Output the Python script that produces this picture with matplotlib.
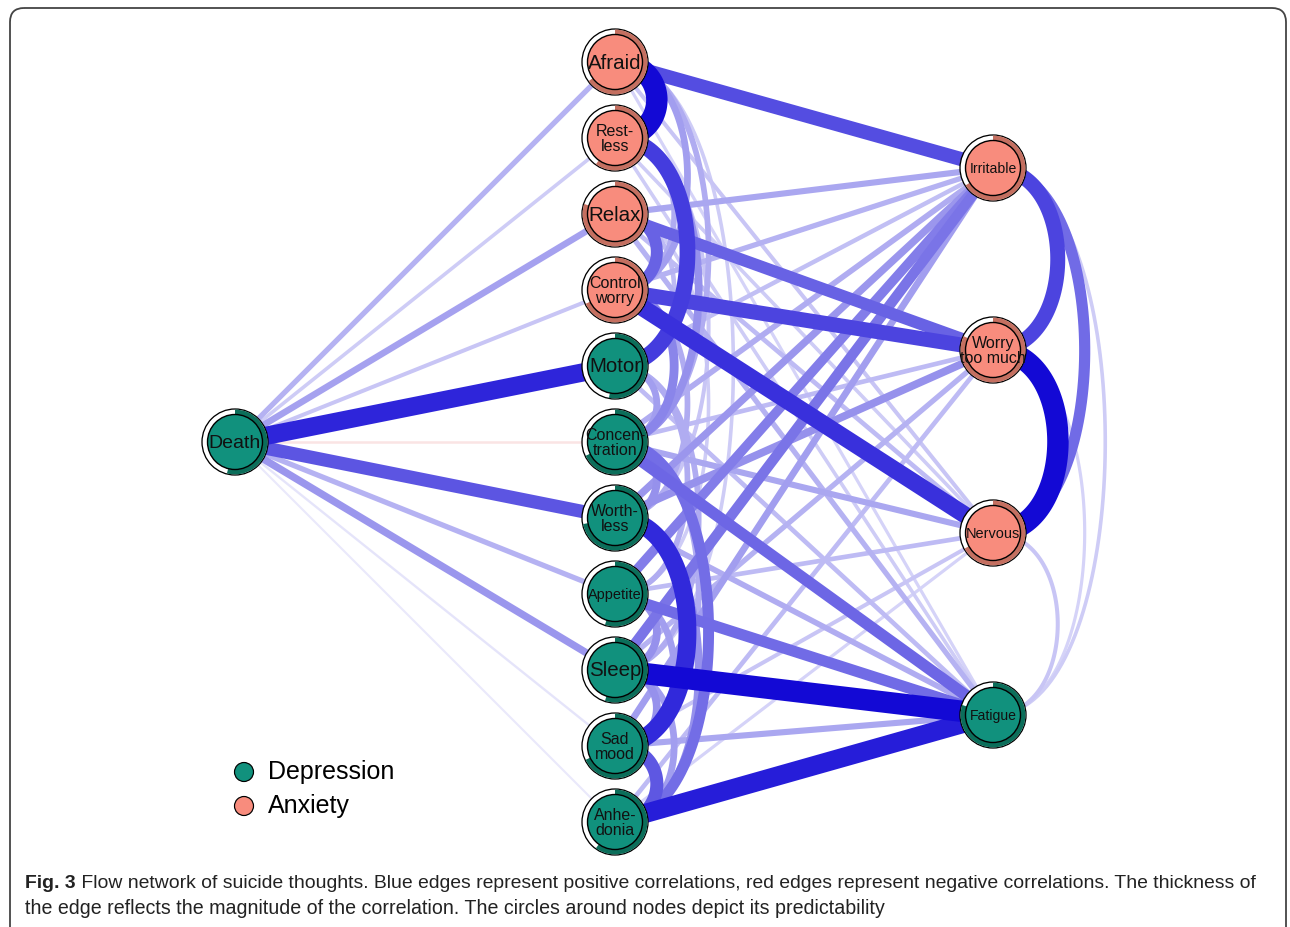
import numpy as np
import matplotlib
matplotlib.use("Agg")
import matplotlib.pyplot as plt
from matplotlib.patches import Circle, Wedge, FancyBboxPatch

# ---------------- data ----------------
node_names = ["Death", "Afraid", "Restless", "Relax", "Control worry", "Motor",
              "Concentration", "Worthless", "Appetite", "Sleep", "Sad mood",
              "Anhedonia", "Irritable", "Worry too much", "Nervous", "Fatigue"]
node_labels = ["Death", "Afraid", "Rest-\nless", "Relax", "Control\nworry", "Motor",
               "Concen-\ntration", "Worth-\nless", "Appetite", "Sleep", "Sad\nmood",
               "Anhe-\ndonia", "Irritable", "Worry\ntoo much", "Nervous", "Fatigue"]
node_groups = ["Depression", "Anxiety", "Anxiety", "Anxiety", "Anxiety", "Depression",
               "Depression", "Depression", "Depression", "Depression", "Depression",
               "Depression", "Anxiety", "Anxiety", "Anxiety", "Depression"]
predictability = [0.54, 0.65, 0.60, 0.80, 0.68, 0.53, 0.68, 0.72, 0.55, 0.55, 0.68,
                  0.60, 0.66, 0.82, 0.67, 0.80]

edge_from = ["Death", "Death", "Death", "Death", "Death", "Death", "Death", "Death",
             "Death", "Death", "Death",
             "Afraid", "Afraid", "Afraid", "Restless", "Restless", "Relax", "Relax",
             "Relax", "Relax", "Control worry", "Control worry", "Control worry",
             "Motor", "Motor", "Concentration", "Concentration", "Concentration",
             "Concentration", "Worthless", "Worthless", "Worthless", "Appetite",
             "Appetite", "Appetite", "Sleep", "Sleep", "Sleep", "Sad mood", "Sad mood",
             "Sad mood", "Anhedonia", "Anhedonia", "Anhedonia",
             "Irritable", "Worry too much", "Irritable", "Irritable", "Worry too much",
             "Nervous",
             "Afraid", "Restless", "Relax", "Afraid", "Afraid", "Restless", "Restless",
             "Relax", "Control worry", "Control worry", "Motor", "Motor", "Motor",
             "Concentration", "Concentration", "Concentration", "Worthless",
             "Worthless", "Appetite", "Appetite", "Sleep", "Sleep", "Sad mood",
             "Afraid", "Relax", "Restless"]
edge_to = ["Afraid", "Restless", "Relax", "Control worry", "Motor", "Concentration",
           "Worthless", "Appetite", "Sleep", "Sad mood", "Anhedonia",
           "Irritable", "Nervous", "Fatigue", "Nervous", "Fatigue", "Irritable",
           "Worry too much", "Nervous", "Fatigue", "Irritable", "Worry too much",
           "Nervous", "Irritable", "Fatigue", "Irritable", "Worry too much", "Nervous",
           "Fatigue", "Irritable", "Worry too much", "Fatigue", "Irritable", "Nervous",
           "Fatigue", "Irritable", "Worry too much", "Fatigue", "Irritable", "Nervous",
           "Fatigue", "Worry too much", "Nervous", "Fatigue",
           "Worry too much", "Nervous", "Nervous", "Fatigue", "Fatigue", "Fatigue",
           "Restless", "Motor", "Control worry", "Control worry", "Concentration",
           "Concentration", "Control worry", "Motor", "Concentration", "Worthless",
           "Concentration", "Appetite", "Sleep", "Worthless", "Anhedonia", "Sad mood",
           "Sad mood", "Anhedonia", "Sleep", "Sad mood", "Sad mood", "Anhedonia",
           "Anhedonia", "Sleep", "Appetite", "Worthless"]
edge_weight = [0.18, 0.10, 0.24, 0.12, 0.80, -0.05, 0.56, 0.18, 0.28, 0.04, 0.03,
               0.60, 0.12, 0.08, 0.10, 0.10, 0.22, 0.50, 0.15, 0.18, 0.18, 0.64, 0.74,
               0.14, 0.15, 0.20, 0.15, 0.22, 0.48, 0.28, 0.30, 0.20, 0.38, 0.15, 0.46,
               0.42, 0.18, 0.95, 0.25, 0.12, 0.22, 0.15, 0.08, 0.84,
               0.64, 0.95, 0.46, 0.10, 0.08, 0.12,
               0.95, 0.68, 0.50, 0.25, 0.20, 0.30, 0.20, 0.15, 0.35, 0.20, 0.25, 0.20,
               0.20, 0.30, 0.45, 0.20, 0.78, 0.30, 0.30, 0.25, 0.30, 0.25, 0.55,
               0.10, 0.10, 0.12]

legend_groups = ["Depression", "Anxiety"]

caption_bold = "Fig. 3"
caption_line1 = (" Flow network of suicide thoughts. Blue edges represent positive "
                 "correlations, red edges represent negative correlations. The thickness of")
caption_line2 = ("the edge reflects the magnitude of the correlation. "
                 "The circles around nodes depict its predictability")

# ---------------- layout / style ----------------
W, H = 1290, 927
PX = 72.0 / 100.0  # points per pixel
col_x = [235, 615, 993]
node_pos = {"Death": (col_x[0], 442)}
for i, n in enumerate(node_names[1:12]):
    node_pos[n] = (col_x[1], 62 + 76 * i)
for n, y in zip(node_names[12:], [168, 350, 533, 715]):
    node_pos[n] = (col_x[2], y)

label_px = {"Death": 19.5, "Afraid": 20.5, "Relax": 20.5, "Motor": 20.5, "Sleep": 20.5,
            "Irritable": 14, "Nervous": 14.5, "Fatigue": 14, "Appetite": 14.5}
fill_col = {"Depression": "#11917D", "Anxiety": "#F88C7D"}
ring_col = {"Depression": "#0B6E5A", "Anxiety": "#C46F60"}
pos_rgb = np.array([0.04, 0.0, 0.83])
neg_rgb = np.array([0.85, 0.15, 0.15])
FONT = ["Liberation Sans", "DejaVu Sans"]

fig = plt.figure(figsize=(W / 100, H / 100), dpi=100)
ax = fig.add_axes([0, 0, 1, 1])
ax.set_xlim(0, W)
ax.set_ylim(H, 0)
ax.axis("off")

# frame
frame = FancyBboxPatch((10, 8), 1276, 980, boxstyle="round,pad=0,rounding_size=14",
                       fc="none", ec="#444444", lw=1.3, zorder=0)
ax.add_patch(frame)


def edge_style(w):
    a = min(1.0, abs(w) ** 0.7)
    base = pos_rgb if w > 0 else neg_rgb
    col = np.ones(3) * (1 - a) + base * a
    lw = (1.5 + 21 * abs(w)) * PX
    return col, lw


order = np.argsort(np.abs(edge_weight))
for k in order:
    a, b, w = edge_from[k], edge_to[k], edge_weight[k]
    (x1, y1), (x2, y2) = node_pos[a], node_pos[b]
    col, lw = edge_style(w)
    if abs(x1 - x2) < 1:
        d = abs(y2 - y1)
        kk = 4.8 * np.sqrt(d) / 0.75
        t = np.linspace(0, 1, 80)
        P = np.array([[x1, y1], [x1 + kk, y1], [x2 + kk, y2], [x2, y2]])
        pts = ((1 - t) ** 3)[:, None] * P[0] + (3 * (1 - t) ** 2 * t)[:, None] * P[1] \
            + (3 * (1 - t) * t ** 2)[:, None] * P[2] + (t ** 3)[:, None] * P[3]
        ax.plot(pts[:, 0], pts[:, 1], color=col, lw=lw, solid_capstyle="butt", zorder=2)
    else:
        ax.plot([x1, x2], [y1, y2], color=col, lw=lw, solid_capstyle="butt", zorder=2)

# nodes
R_OUT, R_IN = 33.0, 27.5
for n, lab, g, p in zip(node_names, node_labels, node_groups, predictability):
    x, y = node_pos[n]
    ax.add_patch(Circle((x, y), R_OUT, fc="white", ec="black", lw=1.3 * PX, zorder=5))
    ax.add_patch(Wedge((x, y), R_OUT - 0.6, -90, -90 + 360 * p, width=R_OUT - R_IN - 0.6,
                       fc=ring_col[g], ec="none", zorder=6))
    ax.add_patch(Circle((x, y), R_IN, fc=fill_col[g], ec="black", lw=1.4 * PX, zorder=7))
    fs = label_px.get(n, 16) * PX
    ax.text(x, y + 1, lab, ha="center", va="center", fontsize=fs, family=FONT,
            linespacing=0.95, color="#111111", zorder=8)

# legend
for i, g in enumerate(legend_groups):
    ly = 772 + 34 * i
    ax.add_patch(Circle((244, ly), 9.5, fc=fill_col[g], ec="black", lw=1.2 * PX, zorder=5))
    ax.text(268, ly, g, ha="left", va="center", fontsize=25 * PX, family=FONT,
            color="black", zorder=5)

# caption
renderer = fig.canvas.get_renderer()
cap_font = ["Liberation Sans Narrow", "Liberation Sans", "DejaVu Sans"]
probe = ax.text(25, 909, caption_line2, ha="left", va="center", fontsize=12,
                family=cap_font, color="#222222")
wpx = probe.get_window_extent(renderer).width
cfs = 12 * (884 - 25) / wpx
probe.set_fontsize(cfs)
tb = ax.text(25, 883, caption_bold, ha="left", va="center", fontsize=cfs,
             family=cap_font, weight="bold", color="#222222")
t1 = ax.text(25, 883, caption_line1, ha="left", va="center", fontsize=cfs,
             family=cap_font, color="#222222")
bw = tb.get_window_extent(renderer).width
w1 = t1.get_window_extent(renderer).width
f1 = cfs * (1255 - 25) / (bw + w1)
tb.set_fontsize(f1)
t1.set_fontsize(f1)
bw = tb.get_window_extent(renderer).width
t1.set_x(25 + bw)

fig.savefig("out.png", dpi=100)
